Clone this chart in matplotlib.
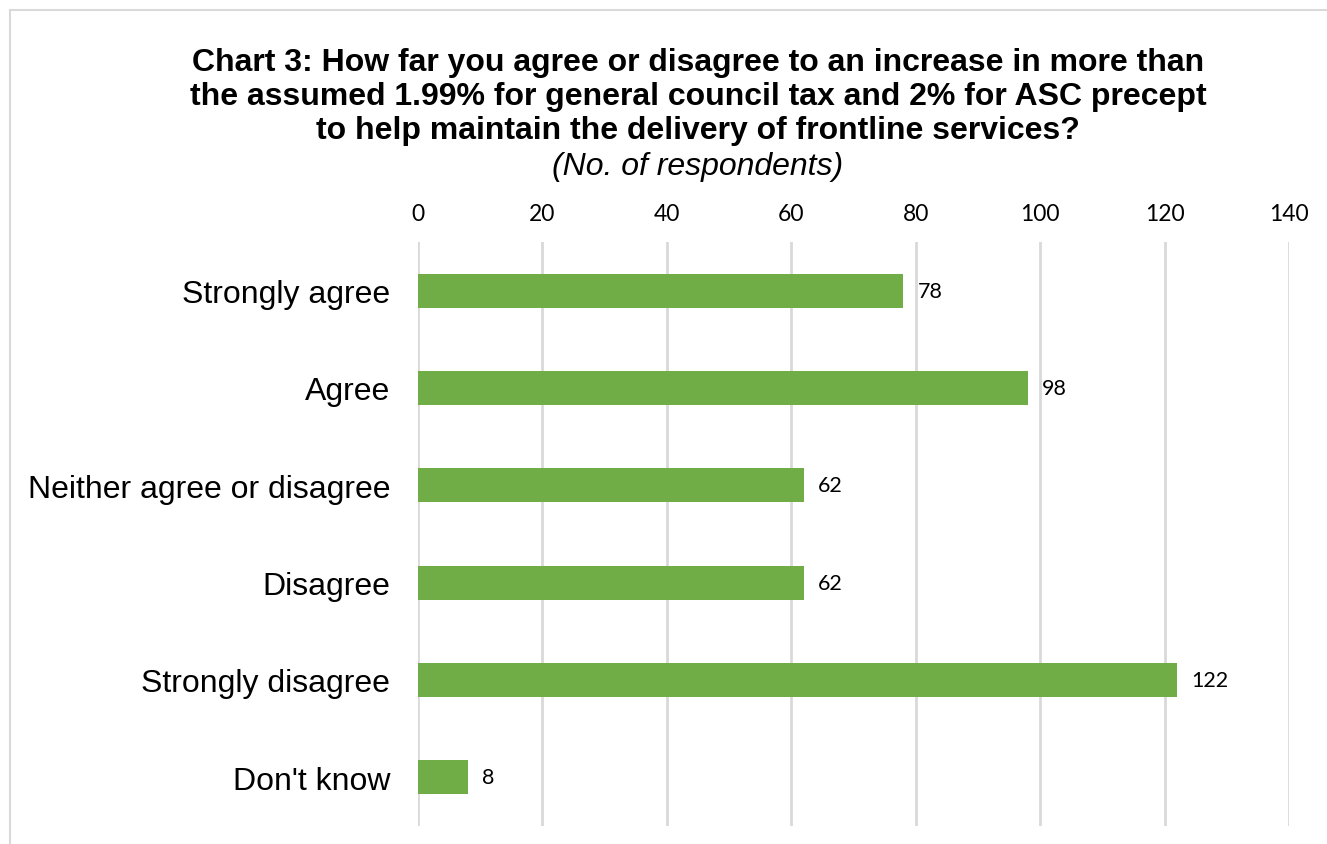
import matplotlib.pyplot as plt
from matplotlib.patches import Rectangle

categories = ['Strongly agree', 'Agree', 'Neither agree or disagree',
              'Disagree', 'Strongly disagree', "Don't know"]
counts = [78, 98, 62, 62, 122, 8]
x_ticks = [0, 20, 40, 60, 80, 100, 120, 140]

fig = plt.figure(figsize=(13.27, 8.45), dpi=100)
ax = fig.add_axes([0.315, 0.0215, 0.9714 - 0.315, 0.7124 - 0.0215])

ypos = list(range(len(categories)))
ax.barh(ypos, counts, height=0.35, color='#70AD47', zorder=3)
for y, v in zip(ypos, counts):
    ax.text(v + 2.3, y, str(v), va='center', ha='left', fontsize=15.5,
            family='Lato', color='#000000')

ax.set_ylim(len(categories) - 0.5, -0.5)
ax.set_xlim(0, 140)
ax.set_yticks(ypos)
ax.set_yticklabels(categories, fontsize=23, family='Liberation Sans')
ax.set_xticks(x_ticks)
ax.set_xticklabels([str(t) for t in x_ticks], fontsize=16.5, family='Lato')
ax.xaxis.tick_top()
ax.tick_params(axis='both', length=0)
ax.tick_params(axis='x', pad=13)
ax.tick_params(axis='y', pad=20)
ax.grid(axis='x', color='#D9D9D9', linewidth=2, zorder=0)
for s in ax.spines.values():
    s.set_visible(False)

fig.text(0.526, 1 - 97 / 845, 'Chart 3: How far you agree or disagree to an increase in more than\n'
         'the assumed 1.99% for general council tax and 2% for ASC precept\n'
         'to help maintain the delivery of frontline services?',
         ha='center', va='center', fontsize=23, fontweight='bold',
         family='Liberation Sans', linespacing=1.17)
fig.text(0.526, 1 - 167 / 845, '(No. of respondents)', ha='center', va='center',
         fontsize=23, style='italic', family='Liberation Sans')

fig.patches.append(Rectangle((10 / 1327, -0.1), 1.2, 1.1 - 11 / 845,
                             transform=fig.transFigure, fill=False,
                             edgecolor='#D9D9D9', linewidth=1.5))

fig.savefig('out.png', dpi=100)
